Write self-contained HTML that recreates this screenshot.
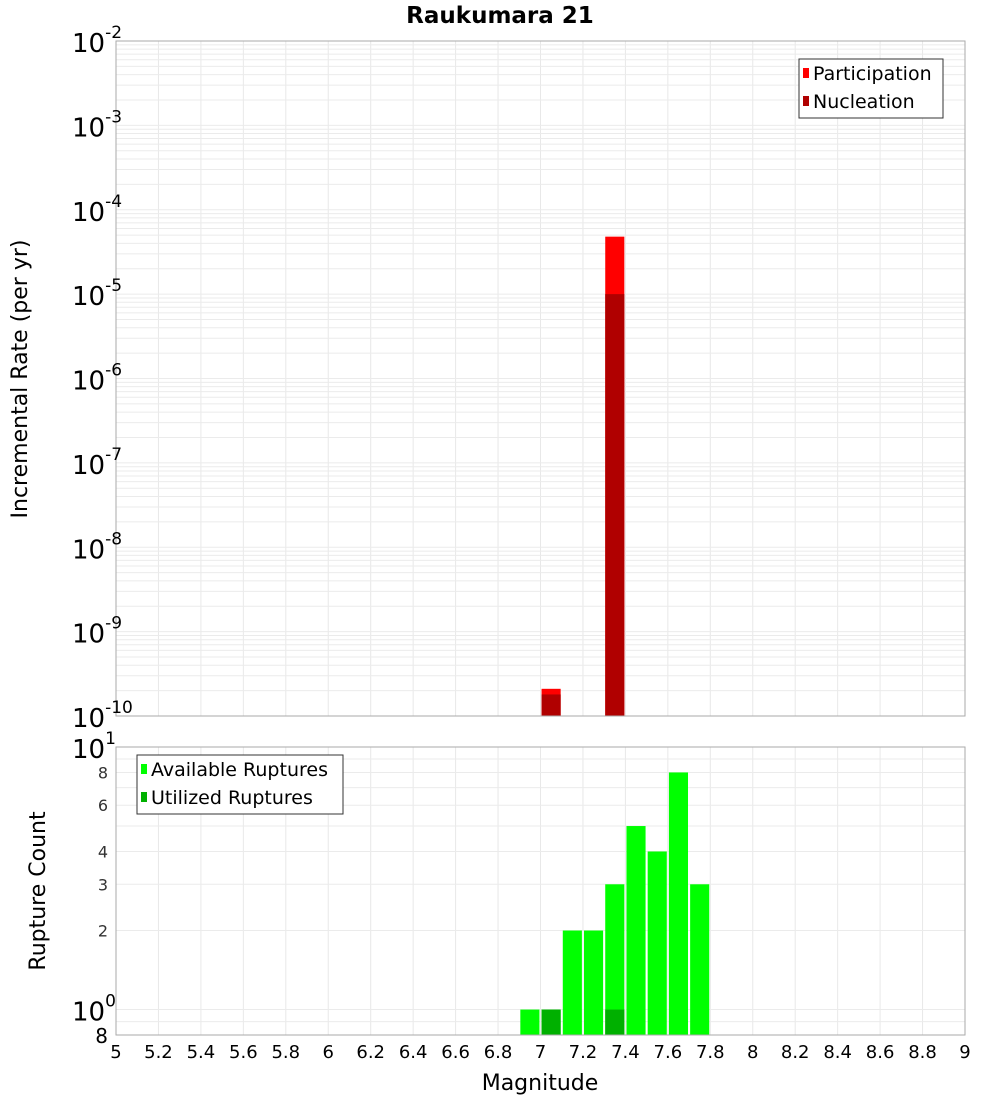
<!DOCTYPE html>
<html><head><meta charset="utf-8"><style>
body{margin:0;background:#fff;font-family:"Liberation Sans","DejaVu Sans",sans-serif}
</style></head><body>
<svg id="c" width="1000" height="1100" xmlns="http://www.w3.org/2000/svg" font-family="DejaVu Sans, Liberation Sans, sans-serif"></svg>
<script>
const magBins=[6.95,7.05,7.15,7.25,7.35,7.45,7.55,7.65,7.75];
const available=[1,1,2,2,3,5,4,8,3];
const utilized=[0,1,0,0,1,0,0,0,0];
const rateMags=[7.05,7.35];
const participation=[2.1e-10,4.8e-5];
const nucleation=[1.8e-10,1.0e-5];
const xTicks=[5,5.2,5.4,5.6,5.8,6,6.2,6.4,6.6,6.8,7,7.2,7.4,7.6,7.8,8,8.2,8.4,8.6,8.8,9];
const topExps=[-2,-3,-4,-5,-6,-7,-8,-9,-10];
const botTicks=[2,3,4,6,8];

const svg=document.getElementById('c');
const NS='http://www.w3.org/2000/svg';
function el(t,a,p){const e=document.createElementNS(NS,t);for(const k in a)e.setAttribute(k,a[k]);(p||svg).appendChild(e);return e;}
const L=116,R=965;
const x=m=>L+(m-5)/4*(R-L);
const T1=41,B1=716;
const y1=v=>T1+(-2-Math.log10(v))/8*(B1-T1);
const T2=747,B2=1035,lmin=Math.log10(0.8);
const y2=v=>T2+(1-Math.log10(v))/(1-lmin)*(B2-T2);

const g=el('g',{});
xTicks.forEach(t=>{el('line',{x1:x(t),x2:x(t),y1:T1,y2:B1,stroke:'#e8e8e8'},g);el('line',{x1:x(t),x2:x(t),y1:T2,y2:B2,stroke:'#e8e8e8'},g);});
for(let e=-10;e<-2;e++)for(let k=1;k<10;k++){const yy=y1(k*Math.pow(10,e));el('line',{x1:L,x2:R,y1:yy,y2:yy,stroke:'#ebebeb'},g);}
[0.9,1,2,3,4,5,6,7,8,9].forEach(v=>{const yy=y2(v);el('line',{x1:L,x2:R,y1:yy,y2:yy,stroke:'#ebebeb'},g);});

const bw=(R-L)/40*0.9;
rateMags.forEach((m,i)=>{
 let r=el('rect',{x:x(m)-bw/2,y:y1(participation[i]),width:bw,height:B1-y1(participation[i]),fill:'#ff0000'});
 
 r=el('rect',{x:x(m)-bw/2,y:y1(nucleation[i]),width:bw,height:B1-y1(nucleation[i]),fill:'#b00000'});
 
});
magBins.forEach((m,i)=>{
 let r=el('rect',{x:x(m)-bw/2,y:y2(available[i]),width:bw,height:B2-y2(available[i]),fill:'#00ff00'});
 
 if(utilized[i]>0){r=el('rect',{x:x(m)-bw/2,y:y2(utilized[i]),width:bw,height:B2-y2(utilized[i]),fill:'#00b000'});
 }
});
el('rect',{x:L,y:T1,width:R-L,height:B1-T1,fill:'none',stroke:'#aaa'});
el('rect',{x:L,y:T2,width:R-L,height:B2-T2,fill:'none',stroke:'#aaa'});

xTicks.forEach(t=>{const s=el('text',{x:x(t),y:1058,'text-anchor':'middle','font-size':18,fill:'#000'});s.textContent=String(t);
 });
topExps.forEach(e=>{const yy=y1(Math.pow(10,e));const s=el('text',{x:72,y:yy+11,'font-size':26,fill:'#000'});
 s.textContent='10';const sp=el('tspan',{dy:-14,'font-size':17},s);sp.textContent=String(e);
 });
[[10,'10','1'],[1,'10','0']].forEach(([v,b,e])=>{const s=el('text',{x:72,y:y2(v)+11,'font-size':26,fill:'#000'});s.textContent=b;const sp=el('tspan',{dy:-14,'font-size':17},s);sp.textContent=e;
 });
botTicks.forEach(v=>{const s=el('text',{x:108,y:y2(v)+6,'text-anchor':'end','font-size':16,fill:'#333'});s.textContent=String(v);
 });
let s8=el('text',{x:108,y:1043,'text-anchor':'end','font-size':20,fill:'#000'});s8.textContent='8';


let t=el('text',{x:500,y:23,'text-anchor':'middle','font-size':23,'font-weight':'bold'});t.textContent='Raukumara 21';
t=el('text',{x:540,y:1090,'text-anchor':'middle','font-size':22});t.textContent='Magnitude';
t=el('text',{x:0,y:0,'text-anchor':'middle','font-size':22,transform:'translate(27,379) rotate(-90)'});t.textContent='Incremental Rate (per yr)';
t=el('text',{x:0,y:0,'text-anchor':'middle','font-size':22,transform:'translate(45,891) rotate(-90)'});t.textContent='Rupture Count';

function legend(x0,y0,w,h,items,name){const gg=el('g',{});
 el('rect',{x:x0,y:y0,width:w,height:h,fill:'#fff',stroke:'#333'},gg);
 items.forEach(([c,txt],i)=>{el('rect',{x:x0+4,y:y0+9+i*28,width:6,height:10,fill:c},gg);
  const tt=el('text',{x:x0+14,y:y0+21+i*28,'font-size':19,fill:'#000'},gg);tt.textContent=txt;});}
legend(799,59,144,59,[['#ff0000','Participation'],['#b00000','Nucleation']],'legend-top');
legend(137,755,206,59,[['#00ff00','Available Ruptures'],['#00b000','Utilized Ruptures']],'legend-bottom');
</script>
</body></html>
